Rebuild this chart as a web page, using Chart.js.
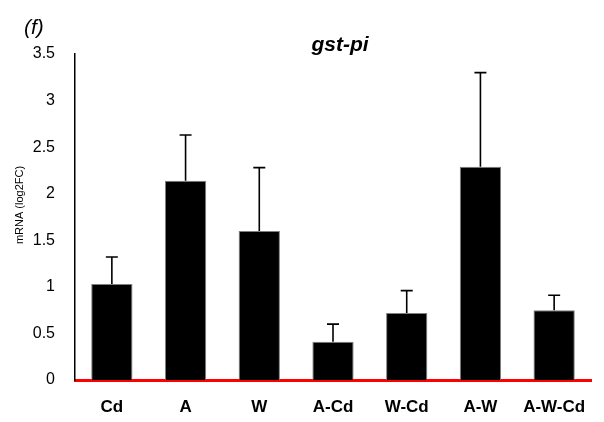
<!DOCTYPE html>
<html>
<head>
<meta charset="utf-8">
<script src="https://cdn.jsdelivr.net/npm/chart.js@4/dist/chart.umd.min.js"></script>
<style>
  html, body { margin: 0; padding: 0; background: #fff; overflow: hidden; }
  #wrap { width: 604px; height: 422px; position: relative; }
</style>
</head>
<body>
<div id="wrap"><canvas id="c" width="604" height="422"></canvas></div>
<script>
// gst-pi expression per treatment group
const categories = ['Cd', 'A', 'W', 'A-Cd', 'W-Cd', 'A-W', 'A-W-Cd'];
const meanValues = [1.03, 2.14, 1.60, 0.41, 0.72, 2.29, 0.75];
const errorValues = [0.29, 0.49, 0.68, 0.19, 0.24, 1.01, 0.16];
const yTicks = [0, 0.5, 1, 1.5, 2, 2.5, 3, 3.5];

const FONT = "'Liberation Sans', Arial, sans-serif";

// Upward-only error bars with a short cap
const errorBarPlugin = {
  id: 'errorBars',
  afterDatasetsDraw(chart) {
    const ctx = chart.ctx;
    const meta = chart.getDatasetMeta(0);
    const y = chart.scales.y;
    ctx.save();
    ctx.strokeStyle = '#000';
    ctx.lineWidth = 1.6;
    meta.data.forEach((bar, i) => {
      const yTop = y.getPixelForValue(meanValues[i] + errorValues[i]);
      const yBase = y.getPixelForValue(meanValues[i]);
      ctx.beginPath();
      ctx.moveTo(bar.x, yBase);
      ctx.lineTo(bar.x, yTop);
      ctx.moveTo(bar.x - 6, yTop);
      ctx.lineTo(bar.x + 6, yTop);
      ctx.stroke();
    });
    ctx.restore();
  }
};

// Panel letter, gene title and the y-axis caption
const headerPlugin = {
  id: 'header',
  afterDraw(chart) {
    const ctx = chart.ctx;
    ctx.save();
    ctx.fillStyle = '#000';
    ctx.textAlign = 'left';
    ctx.textBaseline = 'alphabetic';
    ctx.font = "italic 21px " + FONT;
    ctx.fillText('(f)', 24, 34);
    ctx.textAlign = 'center';
    ctx.font = "italic bold 21px " + FONT;
    ctx.fillText('gst-pi', 340, 51);
    ctx.translate(20, 205);
    ctx.rotate(-Math.PI / 2);
    ctx.textBaseline = 'middle';
    ctx.font = "11px " + FONT;
    ctx.fillText('mRNA (log2FC)', 0, 0);
    ctx.restore();
  }
};

new Chart(document.getElementById('c'), {
  type: 'bar',
  data: {
    labels: categories,
    datasets: [{
      data: meanValues,
      backgroundColor: '#000',
      borderColor: '#7f7f7f',
      borderWidth: 1,
      barPercentage: 0.56,
      categoryPercentage: 1.0
    }]
  },
  options: {
    responsive: false,
    animation: false,
    layout: { padding: { top: 54, right: 13, left: 0, bottom: 0 } },
    plugins: {
      legend: { display: false },
      tooltip: { enabled: false },
      title: { display: false }
    },
    scales: {
      x: {
        grid: { display: false, drawTicks: false },
        border: { display: true, color: '#ff0000', width: 3 },
        ticks: {
          color: '#000',
          font: { family: FONT, size: 17, weight: 'bold' },
          padding: 17,
          maxRotation: 0
        },
        afterFit(scale) { scale.height = 42; }
      },
      y: {
        min: 0,
        max: 3.5,
        grid: { display: false, drawTicks: false },
        border: { display: true, color: '#000', width: 1.5 },
        afterBuildTicks(scale) { scale.ticks = yTicks.map(v => ({ value: v })); },
        ticks: {
          color: '#000',
          font: { family: FONT, size: 16 },
          padding: 20,
          callback: (v) => String(v)
        },
        afterFit(scale) { scale.width = 75; }
      }
    }
  },
  plugins: [errorBarPlugin, headerPlugin]
});
</script>
</body>
</html>
